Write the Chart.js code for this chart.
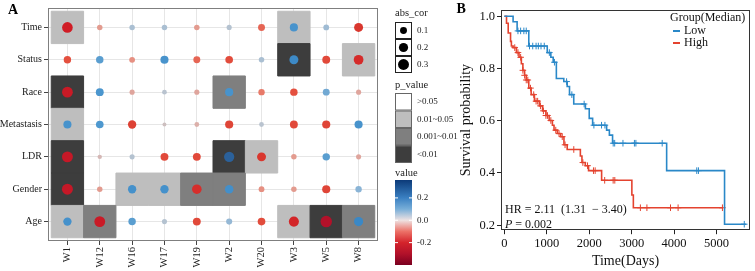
<!DOCTYPE html>
<html><head><meta charset="utf-8">
<script src="https://cdn.jsdelivr.net/npm/chart.js@4/dist/chart.umd.min.js"></script>
<style>
html,body{margin:0;padding:0;background:#fff;}
#wrap{position:relative;width:755px;height:271px;overflow:hidden;background:#fff;}
#ca{position:absolute;left:0;top:0;z-index:1;}
#cb{position:absolute;left:440px;top:0;z-index:2;}
</style></head><body>
<div id="wrap"><canvas id="ca" width="470" height="271"></canvas><canvas id="cb" width="315" height="271"></canvas></div>
<script>
const SERIF = '"Liberation Serif","Times New Roman",serif';

// ---------- Panel A data ----------
const genes  = ['W1','W12','W16','W17','W19','W2','W20','W3','W5','W8'];
const traits = ['Time','Status','Race','Metastasis','LDR','Gender','Age'];
const corTime       = [-0.28,-0.05, 0.05, 0.05,-0.05, 0.04,-0.10, 0.15, 0.06,-0.19];
const corStatus     = [-0.12, 0.12,-0.06, 0.15,-0.10,-0.13, 0.05, 0.19,-0.14,-0.23];
const corRace       = [-0.29, 0.14,-0.04, 0.03,-0.04, 0.15,-0.08,-0.12, 0.10,-0.04];
const corMetastasis = [ 0.15, 0.13,-0.16,-0.01,-0.03,-0.15, 0.03,-0.14,-0.15, 0.15];
const corLDR        = [-0.30,-0.02, 0.04,-0.14,-0.14, 0.26,-0.19,-0.05, 0.12,-0.04];
const corGender     = [-0.30,-0.05, 0.16, 0.16,-0.22, 0.17,-0.06,-0.05,-0.15, 0.08];
const corAge        = [ 0.16,-0.29, 0.12, 0.04,-0.14, 0.07,-0.13,-0.25,-0.33, 0.20];
// p-value class: 0 ">0.05", 1 "0.01~0.05", 2 "0.001~0.01", 3 "<0.01"
const pTime       = [1,0,0,0,0,0,0,1,0,0];
const pStatus     = [0,0,0,0,0,0,0,3,0,1];
const pRace       = [3,0,0,0,0,2,0,0,0,0];
const pMetastasis = [1,0,0,0,0,0,0,0,0,0];
const pLDR        = [3,0,0,0,0,3,1,0,0,0];
const pGender     = [3,0,1,1,2,2,0,0,0,0];
const pAge        = [1,2,0,0,0,0,0,1,3,2];
const pLevels = ['>0.05','0.01~0.05','0.001~0.01','<0.01'];
const sizeBreaks = [0.1,0.2,0.3];
const valueBreaks = [0.2,0.0,-0.2];

// ---------- Panel B data ----------
const lowTime  = [0,205,300,575,1010,1095,1150,1225,1400,1480,1535,1635,1910,2000,2080,2410,2475,2550,3825,5190,5700];
const lowSurv  = [1,0.979,0.944,0.886,0.861,0.843,0.824,0.762,0.75,0.731,0.70,0.664,0.646,0.609,0.583,0.564,0.545,0.514,0.409,0.204,0.204];
const lowCensor = [320,383,459,515,592,668,747,800,863,940,1060,1180,1466,1590,1880,2110,2290,2370,2565,2600,2795,3065,3100,3720,4535,4575,5655];
const highTime = [0,50,90,145,165,205,283,345,400,436,476,515,575,631,708,824,900,979,1055,1132,1170,1248,1327,1404,1480,1791,1828,1907,1984,2292,3005,3040,5155];
const highSurv = [1,0.973,0.936,0.904,0.886,0.88,0.861,0.843,0.818,0.793,0.774,0.756,0.725,0.70,0.675,0.657,0.638,0.62,0.601,0.583,0.564,0.551,0.539,0.508,0.49,0.465,0.44,0.428,0.409,0.372,0.316,0.267,0.267];
const highCensor = [244,320,383,436,476,515,552,615,691,747,784,850,920,979,1016,1095,1211,1288,1364,1430,1636,1850,1960,2100,2140,2364,2564,2603,3206,3360,3916,4095,5140];
const xTicksB = [0,1000,2000,3000,4000,5000];
const yTicksB = [0.2,0.4,0.6,0.8,1.0];

// ---------- styles ----------
const pFill = ['#ffffff','#bebebe','#7f7f7f','#3d3d3d'];
const dotStops = [[-0.35,'#a80d2c'],[-0.28,'#d01c25'],[-0.18,'#da3a2f'],[-0.12,'#e4503f'],[-0.07,'#e98574'],[-0.03,'#dcb0aa'],[0,'#c6c6ca'],[0.04,'#b4c2d0'],[0.08,'#8ab4d6'],[0.13,'#4e98cf'],[0.2,'#3a88c6'],[0.27,'#285a94']];
const barStops = [[-0.40,'#7a0020'],[-0.30,'#b2112a'],[-0.2,'#d4232b'],[-0.1,'#ec7167'],[0,'#eee2e2'],[0.1,'#78aed8'],[0.2,'#3a80c2'],[0.36,'#0c3a78']];
const barMax = 0.36, barMin = -0.40;
const BLUE = '#2a88c8', RED = '#e4432f';

function hex2rgb(h){return [parseInt(h.slice(1,3),16),parseInt(h.slice(3,5),16),parseInt(h.slice(5,7),16)];}
function lerpColor(stops, v){
  if (v <= stops[0][0]) return stops[0][1];
  if (v >= stops[stops.length-1][0]) return stops[stops.length-1][1];
  for (let i=0;i<stops.length-1;i++){
    const a=stops[i], b=stops[i+1];
    if (v>=a[0] && v<=b[0]){
      const t=(v-a[0])/(b[0]-a[0]); const ca=hex2rgb(a[1]), cb=hex2rgb(b[1]);
      return 'rgb('+ca.map((x,k)=>Math.round(x+(cb[k]-x)*t)).join(',')+')';
    }
  }
  return stops[0][1];
}
function dotDiam(a){ return Math.sqrt(12 + 360*a); }

const corRows = [corTime,corStatus,corRace,corMetastasis,corLDR,corGender,corAge];
const pRows = [pTime,pStatus,pRace,pMetastasis,pLDR,pGender,pAge];
const bubbleData = [], tileData = [];
corRows.forEach((row,i)=>row.forEach((v,j)=>bubbleData.push({x:j,y:i,v:v})));
pRows.forEach((row,i)=>row.forEach((p,j)=>{ if(p>0) tileData.push({x:j,y:i,p:p}); }));

Chart.defaults.font.family = SERIF;
Chart.defaults.color = '#222';

const legendA = {
  id:'legendA',
  afterDraw(chart){
    const c = chart.ctx, ca = chart.chartArea;
    c.save();
    c.strokeStyle = '#7f7f7f'; c.lineWidth = 1;
    c.strokeRect(Math.round(ca.left)+0.5, Math.round(ca.top)+0.5, Math.round(ca.right-ca.left)-1, Math.round(ca.bottom-ca.top)-1);
    c.fillStyle = '#000'; c.font = 'bold 14px '+SERIF; c.textAlign='left'; c.textBaseline='alphabetic';
    c.fillText('A', 8, 13.5);
    const lx = 395, kw = 17, tx = 417;
    c.textBaseline = 'middle';
    // abs_cor
    c.fillStyle = '#222'; c.font = '10.5px '+SERIF;
    c.fillText('abs_cor', lx, 13);
    sizeBreaks.forEach((b,k)=>{
      const y0 = 22 + k*17;
      c.fillStyle='#fff'; c.fillRect(lx, y0, kw, 17);
      c.strokeStyle='#222'; c.lineWidth=1; c.strokeRect(lx+0.5, y0+0.5, kw-1, 16);
      c.fillStyle='#000'; c.beginPath(); c.arc(lx+kw/2, y0+8.5, dotDiam(b)/2, 0, Math.PI*2); c.fill();
      c.fillStyle='#222'; c.font='9px '+SERIF; c.fillText(b.toFixed(1), tx, y0+8.5);
    });
    // p_value
    c.font = '10.5px '+SERIF; c.fillText('p_value', lx, 85);
    pLevels.forEach((lab,k)=>{
      const y0 = 93 + k*17.5;
      c.fillStyle = pFill[k]; c.fillRect(lx, y0, kw, 17.5);
      c.strokeStyle='#666'; c.lineWidth=1; c.strokeRect(lx+0.5, y0+0.5, kw-1, 16.5);
      c.fillStyle='#222'; c.font='9px '+SERIF; c.fillText(lab, tx, y0+8.75);
    });
    // value colorbar
    c.font = '10.5px '+SERIF; c.fillText('value', lx, 173);
    const bt = 180, bb = 265;
    const g = c.createLinearGradient(0, bt, 0, bb);
    barStops.forEach(s=>g.addColorStop(Math.min(1,Math.max(0,(barMax-s[0])/(barMax-barMin))), s[1]));
    c.fillStyle = g; c.fillRect(lx, bt, kw, bb-bt);
    valueBreaks.forEach(v=>{
      const y = bt + (barMax - v)/(barMax-barMin)*(bb-bt);
      c.strokeStyle='#fff'; c.lineWidth=1;
      c.beginPath(); c.moveTo(lx, y); c.lineTo(lx+3, y); c.moveTo(lx+kw-3, y); c.lineTo(lx+kw, y); c.stroke();
      c.fillStyle='#222'; c.font='9px '+SERIF; c.fillText(v.toFixed(1), tx, y);
    });
    c.restore();
  }
};

new Chart(document.getElementById('ca'), {
  type:'scatter',
  data:{datasets:[
    {data:bubbleData, order:0,
     pointRadius: ctx => dotDiam(Math.abs(ctx.raw.v))/2,
     pointHoverRadius: ctx => dotDiam(Math.abs(ctx.raw.v))/2,
     backgroundColor: ctx => lerpColor(dotStops, ctx.raw.v),
     borderWidth:0, pointBorderWidth:0},
    {data:tileData, order:1, pointStyle:'rect',
     pointRadius: ctx => { const s = ctx.chart.scales.x; return Math.abs(s.getPixelForValue(1)-s.getPixelForValue(0))/Math.SQRT2; },
     pointHoverRadius: ctx => { const s = ctx.chart.scales.x; return Math.abs(s.getPixelForValue(1)-s.getPixelForValue(0))/Math.SQRT2; },
     backgroundColor: ctx => pFill[ctx.raw.p], borderColor: ctx => pFill[ctx.raw.p], pointBorderWidth:1, borderWidth:1}
  ]},
  options:{
    responsive:false, animation:false, events:[],
    layout:{padding:{top:8,right:92,left:0,bottom:0}},
    plugins:{legend:{display:false},tooltip:{enabled:false}},
    scales:{
      x:{type:'linear', min:-0.6, max:genes.length-0.4,
         afterBuildTicks: s => { s.ticks = genes.map((g,i)=>({value:i})); },
         afterFit: s => { s.height = 30; },
         ticks:{callback: v => genes[v], autoSkip:false, maxRotation:90, minRotation:90, padding:2, font:{family:SERIF,size:10.5}, color:'#222'},
         grid:{color:'#e6e6e6', lineWidth:1, tickColor:'#444', tickLength:4}, border:{display:false}},
      y:{type:'linear', reverse:true, min:-0.6, max:traits.length-0.4,
         afterBuildTicks: s => { s.ticks = traits.map((t,i)=>({value:i})); },
         afterFit: s => { s.width = 48; },
         ticks:{callback: v => traits[v], autoSkip:false, padding:2, font:{family:SERIF,size:10}, color:'#222'},
         grid:{color:'#e6e6e6', lineWidth:1, tickColor:'#444', tickLength:4}, border:{display:false}}
    }
  },
  plugins:[legendA]
});

// ---------- Panel B ----------
function survAt(times, surv, t){ let s = surv[0]; for (let i=0;i<times.length;i++){ if (times[i] <= t) s = surv[i]; } return s; }

const decoB = {
  id:'decoB',
  afterDraw(chart){
    const c = chart.ctx, ca = chart.chartArea;
    c.save();
    c.strokeStyle='#333'; c.lineWidth=1;
    c.strokeRect(Math.round(ca.left)+0.5, Math.round(ca.top)+0.5, Math.round(ca.right-ca.left)-1, Math.round(ca.bottom-ca.top)-1);
    c.fillStyle='#000'; c.font='bold 14px '+SERIF; c.textAlign='left'; c.textBaseline='alphabetic';
    c.fillText('B', 16.5, 12.7);
    c.textBaseline='middle'; c.fillStyle='#111';
    c.font='12px '+SERIF;
    c.fillText('Group(Median)', 230, 18);
    [['Low',BLUE,31],['High',RED,43]].forEach(([lab,col,y])=>{
      c.strokeStyle=col; c.lineWidth=2; c.beginPath(); c.moveTo(233,y); c.lineTo(240,y); c.stroke();
      c.fillStyle='#111'; c.fillText(lab, 244, y);
    });
    c.fillText('HR = 2.11  (1.31  \u2212 3.40)', 65, 210);
    c.font='italic 12px '+SERIF; c.fillText('P', 65, 225);
    const w = c.measureText('P').width;
    c.font='12px '+SERIF; c.fillText(' = 0.002', 65+w, 225);
    c.restore();
  }
};

new Chart(document.getElementById('cb'), {
  type:'line',
  data:{datasets:[
    {label:'Low', data: lowTime.map((t,i)=>({x:t,y:lowSurv[i]})), stepped:'before', borderColor:BLUE, borderWidth:1.6, pointRadius:0, fill:false},
    {label:'High', data: highTime.map((t,i)=>({x:t,y:highSurv[i]})), stepped:'before', borderColor:RED, borderWidth:1.6, pointRadius:0, fill:false},
    {type:'scatter', data: lowCensor.map(t=>({x:t,y:survAt(lowTime,lowSurv,t)})), pointStyle:'cross', pointRadius:3.3, borderColor:BLUE, pointBorderWidth:1, borderWidth:1},
    {type:'scatter', data: highCensor.map(t=>({x:t,y:survAt(highTime,highSurv,t)})), pointStyle:'cross', pointRadius:3.3, borderColor:RED, pointBorderWidth:1, borderWidth:1}
  ]},
  options:{
    responsive:false, animation:false, events:[],
    layout:{padding:{top:10,right:1,left:0,bottom:0}},
    plugins:{legend:{display:false},tooltip:{enabled:false}},
    scales:{
      x:{type:'linear', min:-80, max:5790,
         afterBuildTicks: s => { s.ticks = xTicksB.map(v=>({value:v})); },
         ticks:{padding:2, maxRotation:0, callback: v => String(v), font:{family:SERIF,size:12.5}, color:'#111'},
         grid:{drawOnChartArea:false, tickColor:'#222', tickLength:4}, border:{display:false},
         title:{display:true, text:'Time(Days)', font:{family:SERIF,size:14}, color:'#111', padding:{top:0,bottom:1}}},
      y:{type:'linear', min:0.181, max:1.024,
         afterBuildTicks: s => { s.ticks = yTicksB.map(v=>({value:v})); },
         afterFit: s => { s.width = 61; },
         ticks:{padding:2, callback: v => v.toFixed(1), font:{family:SERIF,size:12.5}, color:'#111'},
         grid:{drawOnChartArea:false, tickColor:'#222', tickLength:4}, border:{display:false},
         title:{display:true, text:'Survival probability', font:{family:SERIF,size:14}, color:'#111', padding:{top:18,bottom:0}}}
    }
  },
  plugins:[decoB]
});
</script>
</body></html>
